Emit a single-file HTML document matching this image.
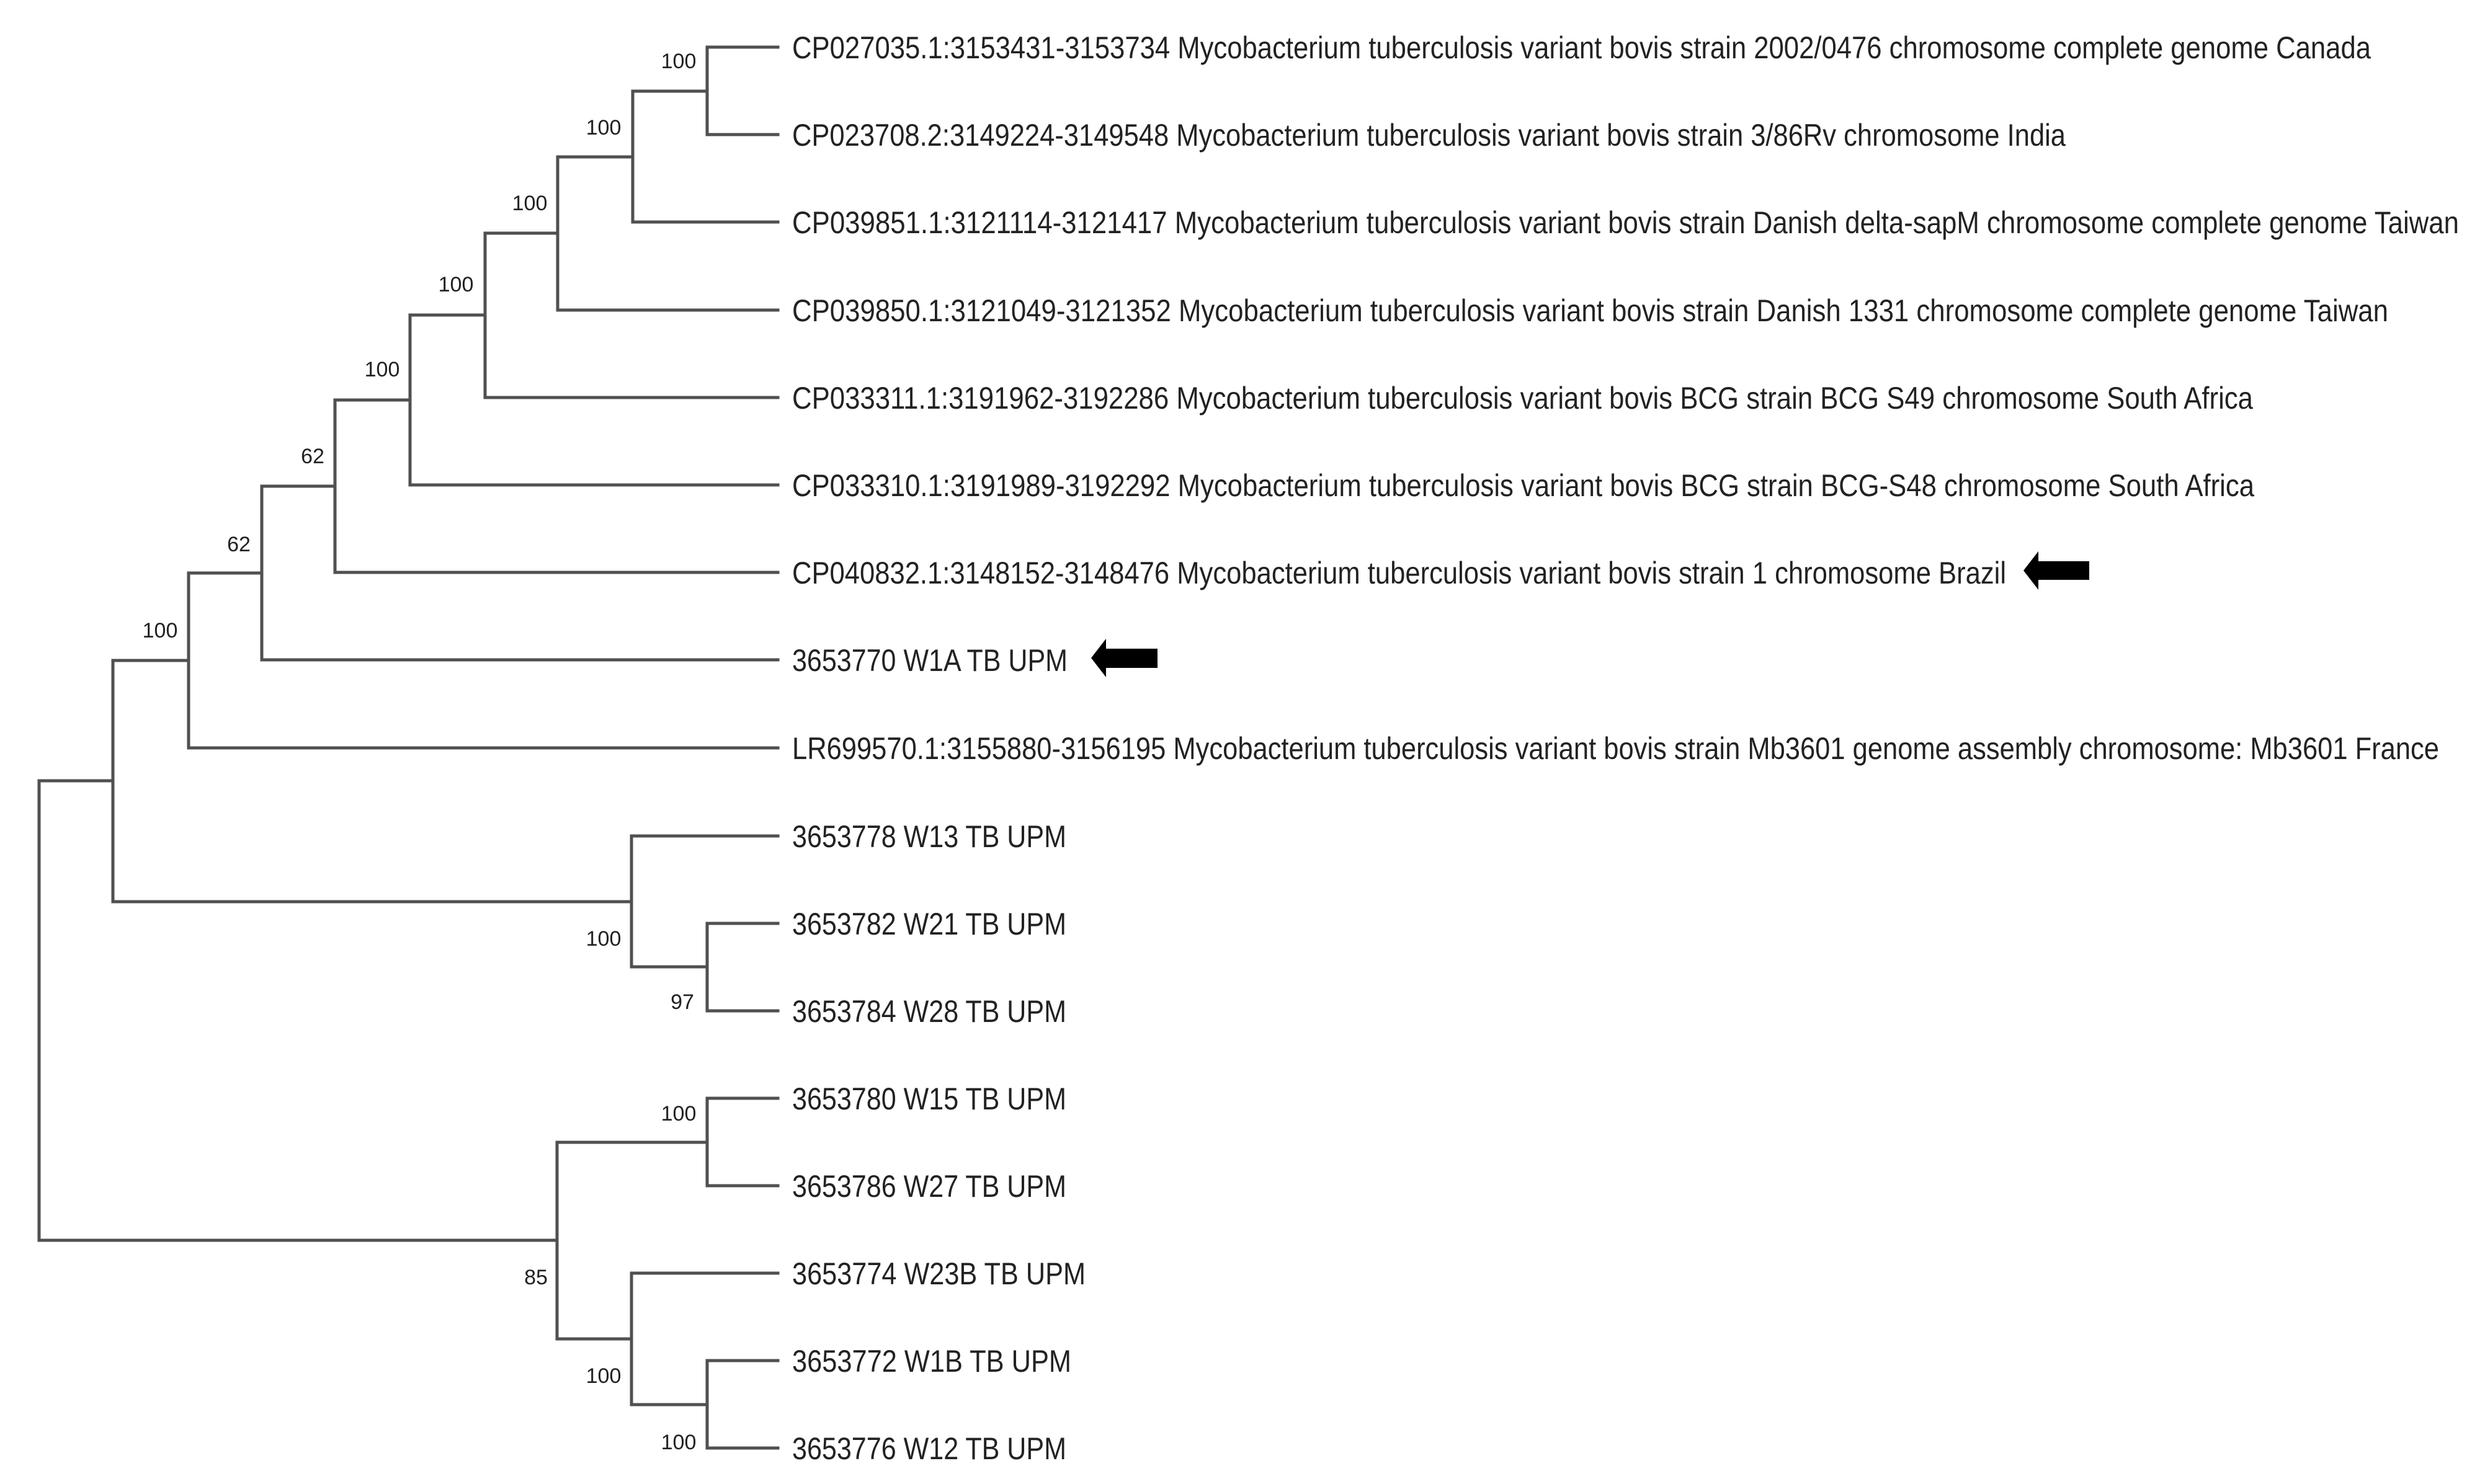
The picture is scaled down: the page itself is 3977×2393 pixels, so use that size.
<!DOCTYPE html>
<html><head><meta charset="utf-8"><style>html,body{margin:0;padding:0;background:#fff}svg{display:block}</style></head>
<body>
<svg width="3977" height="2393" viewBox="0 0 3977 2393" xmlns="http://www.w3.org/2000/svg">
<g stroke="#505050" stroke-width="5" fill="none" stroke-linecap="square">
<!-- leaves y = 76 + 141.2*i -->
<path d="M1140 76 H1254 M1140 217 H1254 M1140 76 V217"/>
<path d="M1020 147 H1140 M1020 358 H1254 M1020 147 V358"/>
<path d="M899 253 H1020 M899 500 H1254 M899 253 V500"/>
<path d="M782 376 H899 M782 641 H1254 M782 376 V641"/>
<path d="M661 508 H782 M661 782 H1254 M661 508 V782"/>
<path d="M540 645 H661 M540 923 H1254 M540 645 V923"/>
<path d="M422 784 H540 M422 1064 H1254 M422 784 V1064"/>
<path d="M304 924 H422 M304 1206 H1254 M304 924 V1206"/>
<path d="M182 1065 H304 M182 1454 H1018 M182 1065 V1454"/>
<path d="M1018 1348 H1254 M1018 1559 H1140 M1018 1348 V1559"/>
<path d="M1140 1489 H1254 M1140 1630 H1254 M1140 1489 V1630"/>
<path d="M63 1259 H182 M63 2000 H898 M63 1259 V2000"/>
<path d="M898 1842 H1140 M898 2159 H1018 M898 1842 V2159"/>
<path d="M1140 1771 H1254 M1140 1912 H1254 M1140 1771 V1912"/>
<path d="M1018 2053 H1254 M1018 2265 H1140 M1018 2053 V2265"/>
<path d="M1140 2194 H1254 M1140 2335 H1254 M1140 2194 V2335"/>
</g>
<g font-family="Liberation Sans, sans-serif" font-size="34" fill="#222" text-anchor="middle">
<text x="1094" y="110">100</text>
<text x="973" y="217">100</text>
<text x="854" y="339">100</text>
<text x="735" y="470">100</text>
<text x="616" y="607">100</text>
<text x="504" y="747">62</text>
<text x="385" y="889">62</text>
<text x="258" y="1028">100</text>
<text x="973" y="1525">100</text>
<text x="1100" y="1627">97</text>
<text x="1094" y="1807">100</text>
<text x="864" y="2071">85</text>
<text x="973" y="2230">100</text>
<text x="1094" y="2337">100</text>
</g>
<g font-family="Liberation Sans, sans-serif" font-size="50" fill="#222" lengthAdjust="spacingAndGlyphs">
<text x="1277" y="94" textLength="2545" lengthAdjust="spacingAndGlyphs">CP027035.1:3153431-3153734 Mycobacterium tuberculosis variant bovis strain 2002/0476 chromosome complete genome Canada</text>
<text x="1277" y="235" textLength="2053" lengthAdjust="spacingAndGlyphs">CP023708.2:3149224-3149548 Mycobacterium tuberculosis variant bovis strain 3/86Rv chromosome India</text>
<text x="1277" y="376" textLength="2687" lengthAdjust="spacingAndGlyphs">CP039851.1:3121114-3121417 Mycobacterium tuberculosis variant bovis strain Danish delta-sapM chromosome complete genome Taiwan</text>
<text x="1277" y="518" textLength="2573" lengthAdjust="spacingAndGlyphs">CP039850.1:3121049-3121352 Mycobacterium tuberculosis variant bovis strain Danish 1331 chromosome complete genome Taiwan</text>
<text x="1277" y="659" textLength="2355" lengthAdjust="spacingAndGlyphs">CP033311.1:3191962-3192286 Mycobacterium tuberculosis variant bovis BCG strain BCG S49 chromosome South Africa</text>
<text x="1277" y="800" textLength="2357" lengthAdjust="spacingAndGlyphs">CP033310.1:3191989-3192292 Mycobacterium tuberculosis variant bovis BCG strain BCG-S48 chromosome South Africa</text>
<text x="1277" y="941" textLength="1957" lengthAdjust="spacingAndGlyphs">CP040832.1:3148152-3148476 Mycobacterium tuberculosis variant bovis strain 1 chromosome Brazil</text>
<text x="1277" y="1082" textLength="444" lengthAdjust="spacingAndGlyphs">3653770 W1A TB UPM</text>
<text x="1277" y="1224" textLength="2655" lengthAdjust="spacingAndGlyphs">LR699570.1:3155880-3156195 Mycobacterium tuberculosis variant bovis strain Mb3601 genome assembly chromosome: Mb3601 France</text>
<text x="1277" y="1366" textLength="442" lengthAdjust="spacingAndGlyphs">3653778 W13 TB UPM</text>
<text x="1277" y="1507" textLength="442" lengthAdjust="spacingAndGlyphs">3653782 W21 TB UPM</text>
<text x="1277" y="1648" textLength="442" lengthAdjust="spacingAndGlyphs">3653784 W28 TB UPM</text>
<text x="1277" y="1789" textLength="442" lengthAdjust="spacingAndGlyphs">3653780 W15 TB UPM</text>
<text x="1277" y="1930" textLength="442" lengthAdjust="spacingAndGlyphs">3653786 W27 TB UPM</text>
<text x="1277" y="2071" textLength="473" lengthAdjust="spacingAndGlyphs">3653774 W23B TB UPM</text>
<text x="1277" y="2212" textLength="450" lengthAdjust="spacingAndGlyphs">3653772 W1B TB UPM</text>
<text x="1277" y="2353" textLength="442" lengthAdjust="spacingAndGlyphs">3653776 W12 TB UPM</text>
</g>
<g fill="#000">
<polygon points="3262,920 3286,889 3286,905 3368,905 3368,935 3286,935 3286,951"/>
<polygon points="1759,1061 1783,1030 1783,1046 1866,1046 1866,1077 1783,1077 1783,1092"/>
</g>
</svg>
</body></html>
